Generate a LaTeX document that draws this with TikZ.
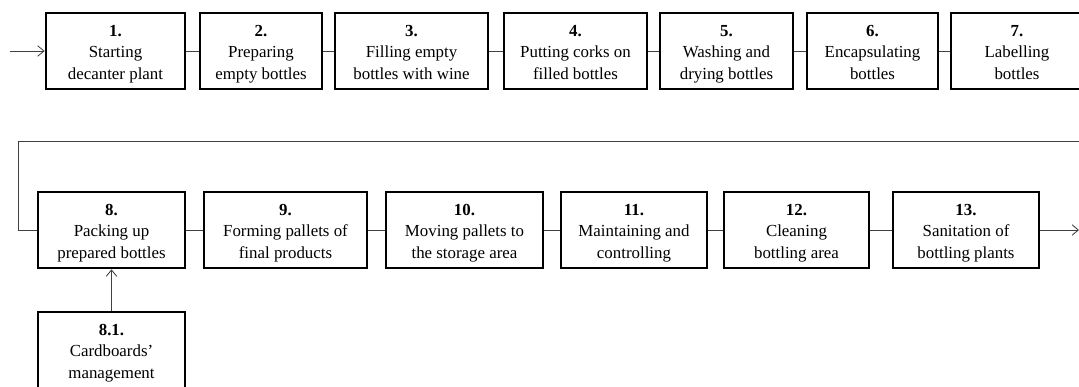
\documentclass[tikz,border=0pt]{standalone}
\usepackage{fontspec}
\setmainfont{Liberation Serif}
\usetikzlibrary{arrows.meta}
\tikzstyle{stage} = [rectangle, draw=black, line width=1.9pt, minimum height=1.9cm, align=center, inner sep=1pt, font=\fontsize{12}{15.3}\selectfont, text height=45pt, text depth=4.6pt]
\tikzstyle{link} = [black!75, line width=0.6pt]
\tikzstyle{arrow} = [link,-{Straight Barb[length=4.5pt,width=7.5pt]}]

\begin{document}
\begin{tikzpicture}[x=0.025cm,y=-0.025cm]
\useasboundingbox (0,0) rectangle (1079,387);
\clip (0,0) rectangle (1079,387);
% first row
\node[stage,minimum width=3.475cm] (s1) at (115.5,51) {\textbf{1.}\\Starting\\decanter plant};
\node[stage,minimum width=3.05cm] (s2) at (261,51) {\textbf{2.}\\Preparing\\empty bottles};
\node[stage,minimum width=3.825cm] (s3) at (411.5,51) {\textbf{3.}\\Filling empty\\bottles with wine};
\node[stage,minimum width=3.575cm] (s4) at (575.5,51) {\textbf{4.}\\Putting corks on\\filled bottles};
\node[stage,minimum width=3.325cm] (s5) at (726.5,51) {\textbf{5.}\\Washing and\\drying bottles};
\node[stage,minimum width=3.275cm] (s6) at (872.5,51) {\textbf{6.}\\Encapsulating\\bottles};
\node[stage,minimum width=3.3cm] (s7) at (1017,51) {\textbf{7.}\\Labelling\\bottles};
% second row
\node[stage,minimum width=3.675cm] (s8) at (111.5,230) {\textbf{8.}\\Packing up\\prepared bottles};
\node[stage,minimum width=4.075cm] (s9) at (285.5,230) {\textbf{9.}\\Forming pallets of\\final products};
\node[stage,minimum width=3.925cm] (s10) at (464.5,230) {\textbf{10.}\\Moving pallets to\\the storage area};
\node[stage,minimum width=3.65cm] (s11) at (634,230) {\textbf{11.}\\Maintaining and\\controlling};
\node[stage,minimum width=3.625cm] (s12) at (796.5,230) {\textbf{12.}\\Cleaning\\bottling area};
\node[stage,minimum width=3.65cm] (s13) at (966,230) {\textbf{13.}\\Sanitation of\\bottling plants};
\node[stage,minimum width=3.675cm] (s81) at (111.5,350) {\textbf{8.1.}\\Cardboards’\\management};
% connectors
\coordinate (start) at (10,51);
\coordinate (stop) at (1079,230);
\coordinate (backR) at (1100,141);
\coordinate (backL) at (18,141);
\draw[arrow] (start) -- (s1);
\draw[link] (s1) -- (s2) (s2) -- (s3) (s3) -- (s4) (s4) -- (s5) (s5) -- (s6) (s6) -- (s7);
\draw[link] (s7.east) -| (backR) -- (backL) |- (s8.west);
\draw[link] (s8) -- (s9) (s9) -- (s10) (s10) -- (s11) (s11) -- (s12) (s12) -- (s13);
\draw[arrow] (s13) -- (stop);
\draw[arrow] (s81) -- (s8);
\end{tikzpicture}
\end{document}
